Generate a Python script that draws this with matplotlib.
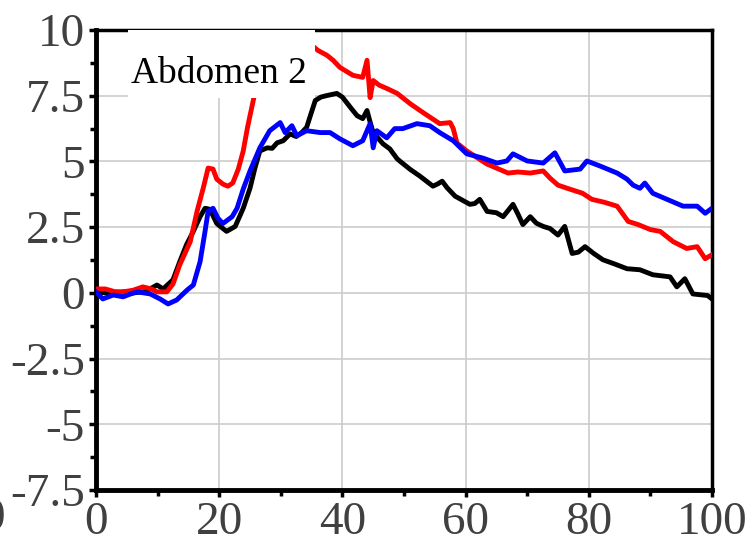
import numpy as np
import matplotlib
matplotlib.use('Agg')
import matplotlib.pyplot as plt
from matplotlib.patches import Rectangle

# data
black_x = [0, 1.5, 3, 4.4, 6, 8, 9.9, 10.9, 12.5, 13.6, 14.7, 15.8, 16.9, 17.7, 18.5, 19.6,
           21.2, 22.6, 23.9, 25, 25.8, 26.6, 27.8, 28.6, 29.4, 30.4, 31.5, 32.5, 33.4, 34.2,
           34.7, 35.6, 36.5, 37.5, 39.1, 40.0, 40.7, 41.5, 42.4, 43.3, 44.0, 44.5, 45, 46.6,
           47.7, 48.9, 49.4, 51, 52.6, 54.7, 55.5, 56.2, 57, 58.3, 60.7, 61.5, 62.3, 63.5,
           65, 66.1, 67.7, 68.5, 69.3, 70.5, 71.5, 72.6, 73.7, 75, 76.1, 77.3, 78.3, 79.4,
           80.8, 82.3, 84.2, 86.2, 88.3, 90.4, 91.8, 93.2, 94.3, 95.6, 96.9, 98.5, 99.3, 100]
black_y = [0.05, 0.0, -0.05, 0.04, 0.0, 0.05, 0.3, 0.15, 0.5, 1.19, 1.84, 2.34, 2.9, 3.22, 3.18, 2.64,
           2.34, 2.53, 3.22, 3.98, 4.75, 5.4, 5.52, 5.5, 5.71, 5.79, 6.05, 5.95, 6.1, 6.3,
           6.67, 7.32, 7.45, 7.51, 7.59, 7.45, 7.24, 7.0, 6.74, 6.63, 6.94, 6.5, 6.1, 5.67,
           5.48, 5.1, 5.0, 4.7, 4.44, 4.06, 4.15, 4.25, 4.0, 3.68, 3.37, 3.4, 3.56, 3.1,
           3.05, 2.9, 3.37, 3.0, 2.6, 2.9, 2.65, 2.53, 2.45, 2.2, 2.53, 1.5, 1.55, 1.76,
           1.5, 1.26, 1.1, 0.92, 0.88, 0.69, 0.65, 0.61, 0.23, 0.54, -0.04, -0.08, -0.1, -0.23]

red_x = [0, 1.5, 3, 4.4, 6, 7.6, 9, 9.9, 11.5, 12.5, 13.6, 15.3, 16.4, 17.4, 18.2, 19.0, 19.6,
         20.6, 21.4, 22.2, 23.1, 23.9, 24.6, 25.6, 26.2, 30, 35.4, 36, 37.5, 38.5, 39.6,
         41.7, 43.3, 44.0, 44.5, 45, 46, 47.2, 48.9, 51, 53.1, 55.8, 57.5, 58, 58.6, 60.2,
         63.5, 65, 66.9, 68.5, 70.5, 72.6, 73.7, 75, 76.5, 79, 80.5, 82.5, 84.6, 86.4, 88,
         90, 91.6, 93.7, 95.9, 97.6, 98.9, 100]
red_y = [0.15, 0.15, 0.05, 0.04, 0.1, 0.23, 0.15, 0.04, 0.04, 0.34, 1.07, 1.95, 3.1, 3.98, 4.75, 4.71, 4.33,
         4.14, 4.06, 4.18, 4.71, 5.4, 6.3, 7.4, 8.0, np.nan, 9.35, 9.23, 9.04, 8.85, 8.58,
         8.28, 8.2, 8.85, 7.43, 8.08, 7.9, 7.78, 7.59, 7.2, 6.86, 6.44, 6.48, 6.25, 5.7, 5.4,
         4.9, 4.75, 4.56, 4.6, 4.56, 4.64, 4.37, 4.1, 3.98, 3.79, 3.56, 3.45, 3.3, 2.72, 2.6,
         2.41, 2.34, 1.95, 1.69, 1.76, 1.3, 1.45]

blue_x = [0, 1.1, 2.8, 4.4, 5.5, 6.7, 8.8, 10.4, 11.7, 13.1, 14.8, 15.8, 16.9, 17.7, 18.2, 19.0,
          19.8, 20.6, 22.1, 22.9, 23.9, 25, 26.6, 28.2, 29.9, 30.7, 31.8, 32.6, 34.2, 36.4,
          38, 39.6, 41.7, 43.3, 44.5, 45, 45.6, 47.2, 48.5, 49.8, 52.1, 54.2, 55.8, 58, 60.2,
          62.8, 65.1, 66.7, 67.7, 70, 72.6, 74.5, 76.1, 78.6, 79.7, 81.8, 84.6, 86.2, 87.2,
          88.3, 89.1, 90.4, 92.7, 95.3, 97.6, 98.9, 100]
blue_y = [0.04, -0.23, -0.08, -0.15, -0.05, 0.04, -0.04, -0.23, -0.42, -0.27, 0.11, 0.3, 1.19, 2.34, 3.1, 3.22,
          2.84, 2.64, 2.9, 3.22, 3.95, 4.64, 5.52, 6.17, 6.48, 6.1, 6.36, 5.98, 6.17, 6.1,
          6.1, 5.86, 5.6, 5.79, 6.44, 5.52, 6.17, 5.9, 6.25, 6.25, 6.44, 6.36, 6.1, 5.79, 5.29,
          5.13, 4.94, 5.02, 5.29, 5.02, 4.94, 5.33, 4.64, 4.71, 5.02, 4.83, 4.56, 4.33, 4.1,
          3.98, 4.18, 3.79, 3.56, 3.3, 3.3, 3.03, 3.22]

x_ticks = [0, 20, 40, 60, 80, 100]
y_ticks = [-7.5, -5, -2.5, 0, 2.5, 5, 7.5, 10]
y_labels = ['-7.5', '-5', '-2.5', '0', '2.5', '5', '7.5', '10']
label = 'Abdomen 2'

plt.rcParams['font.family'] = ['Liberation Serif', 'DejaVu Serif']

fig = plt.figure(figsize=(7.53, 5.37), dpi=100)
ax = fig.add_axes([0.1275, 0.0875, 0.818, 0.8565])

ax.plot(black_x, black_y, color='black', lw=3.5, zorder=3)
ax.plot(red_x, red_y, color='#ff0000', lw=3.5, zorder=3)
ax.plot(blue_x, blue_y, color='#0000ff', lw=3.5, zorder=3)

ax.set_xlim(0, 100)
ax.set_ylim(-7.5, 10)
ax.set_xticks(x_ticks)
ax.set_xticks([10, 30, 50, 70, 90], minor=True)
ax.set_yticks(y_ticks)
ax.set_yticklabels(y_labels)
ax.set_yticks([-6.25, -3.75, -1.25, 1.25, 3.75, 6.25, 8.75], minor=True)
ax.grid(True, which='major', color='#cccccc', lw=1.2, zorder=0)
ax.set_axisbelow(True)

ax.tick_params(which='major', direction='out', length=5, width=2.5, labelsize=34,
               labelcolor='#404040', pad=3)
ax.tick_params(which='minor', direction='out', length=4, width=2.5)
for s in ['left', 'bottom']:
    ax.spines[s].set_linewidth(3.5)
for s in ['top', 'right']:
    ax.spines[s].set_linewidth(2.5)

# white box behind the panel label
ax.add_patch(Rectangle((5.2, 7.4), 30.3, 2.6, facecolor='white', edgecolor='none', zorder=4))
ax.text(5.6, 7.97, label, fontsize=27, color='black', ha='left', va='baseline', zorder=5)

# clipped tick label of the neighbouring panel
fig.text(0.006, 1 - 497 / 537, '0', fontsize=34, color='#404040', ha='right', va='top')

fig.savefig('out.png', dpi=100)
